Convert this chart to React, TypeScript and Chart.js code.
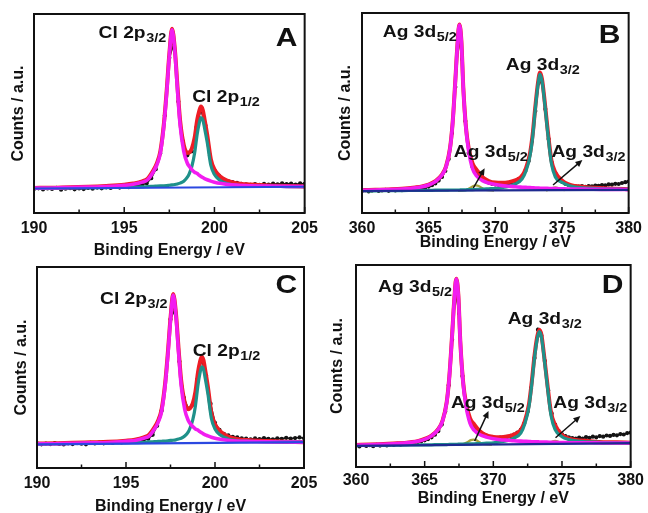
import React, { useEffect, useRef } from "react";
import { Chart, registerables } from "chart.js";

Chart.register(...registerables);

const FONT = "'Liberation Sans', Arial, Helvetica, sans-serif";

// ---------------- Cl 2p data (panels A, C) ----------------
const CL_E = [190, 191, 192, 193, 194, 195, 195.5, 196, 196.3, 196.6, 196.8, 197, 197.2, 197.35, 197.5, 197.65, 197.8, 197.95, 198.1, 198.3, 198.5, 198.6, 198.75, 198.9, 199.05, 199.15, 199.25, 199.35, 199.45, 199.6, 199.8, 200, 200.3, 200.7, 201.2, 202, 203, 204, 205];

const A_MAG = [12.5, 12.6, 12.8, 13.0, 13.3, 13.9, 14.4, 15.5, 16.7, 20.5, 24, 30, 44, 60, 79, 92, 82, 62, 44, 31, 25, 23.5, 21.8, 20.5, 19.8, 19, 18.4, 17.8, 17.3, 16.7, 16, 15.5, 14.9, 14.4, 14, 13.7, 13.5, 13.4, 13.3];
const A_TEAL = [12.4, 12.5, 12.6, 12.7, 12.8, 12.9, 13.0, 13.1, 13.3, 13.4, 13.5, 13.6, 13.7, 13.8, 13.95, 14.1, 14.3, 14.6, 15.0, 16.0, 18.0, 19.7, 23.5, 30, 40, 44.8, 48, 47, 42.8, 35.5, 24, 19.3, 16.5, 14.8, 14.0, 13.6, 13.4, 13.3, 13.2];
const A_ENV = [12.6, 12.7, 13.0, 13.2, 13.6, 14.2, 14.8, 15.9, 17.3, 21.2, 24.8, 30.9, 45.0, 61.1, 79.8, 92.6, 83, 63.8, 46.2, 34.2, 30.2, 30.4, 32.5, 37.7, 47.0, 51.0, 53.5, 51.9, 47.2, 39.3, 27.1, 21.9, 18.5, 16.3, 15.0, 14.3, 13.8, 13.6, 13.3];

const C_MAG = [12.0, 12.1, 12.3, 12.5, 12.7, 13.3, 13.7, 14.8, 15.9, 19.4, 22.6, 28.2, 41.1, 56, 73.5, 86, 76.3, 57.8, 41.1, 29.1, 23.6, 22.2, 20.6, 19.4, 18.8, 18.1, 17.5, 17.0, 16.5, 16.0, 15.3, 14.8, 14.3, 13.8, 13.4, 13.2, 13.0, 12.9, 12.8];
const C_TEAL = [12.0, 12.1, 12.2, 12.3, 12.4, 12.5, 12.6, 12.7, 13.0, 13.1, 13.2, 13.3, 13.4, 13.5, 13.7, 13.8, 14.0, 14.4, 14.8, 15.9, 18.0, 19.9, 23.9, 30.9, 41.7, 46.9, 50.3, 49.2, 44.7, 36.9, 24.5, 19.4, 16.4, 14.6, 13.7, 13.3, 13.1, 13.0, 12.9];
const C_ENV = [12.2, 12.3, 12.6, 12.8, 13.0, 13.6, 14.1, 15.3, 16.6, 20.2, 23.5, 29.2, 42.2, 57.2, 74.5, 86.6, 77.5, 59.8, 43.5, 32.6, 29.2, 29.7, 32.1, 37.9, 48.0, 52.5, 55.3, 53.7, 48.7, 40.4, 27.3, 21.7, 18.2, 15.8, 14.5, 13.8, 13.4, 13.1, 12.8];

const CL_BASE_E = [190, 205];
const A_BASE = [12.3, 13.2];
const C_BASE = [11.8, 12.9];

const CL_RAW_E = [190, 190.25, 190.5, 190.75, 191, 191.25, 191.5, 191.75, 192, 192.25, 192.5, 192.75, 193, 193.25, 193.5, 193.75, 194, 194.25, 194.5, 194.75, 195, 195.25, 195.5, 195.75, 196, 196.25, 196.5, 196.75, 197, 197.25, 197.5, 197.75, 198, 198.25, 198.5, 198.75, 199, 199.25, 199.5, 199.75, 200, 200.25, 200.5, 200.75, 201, 201.25, 201.5, 201.75, 202, 202.25, 202.5, 202.75, 203, 203.25, 203.5, 203.75, 204, 204.25, 204.5, 204.75, 205];
const A_RAW = [12.0, 12.4, 11.8, 12.3, 12.1, 12.6, 11.7, 12.2, 12.5, 11.9, 12.3, 12.0, 12.6, 12.2, 12.8, 12.4, 12.9, 12.6, 13.1, 12.8, 13.3, 13.0, 13.6, 13.8, 14.2, 15.0, 17.5, 22, 30, 49, 78, 85, 56, 36, 29, 31, 43, 52, 44, 29, 21.5, 18.8, 16.8, 16, 15.5, 15.1, 14.6, 14.4, 14.2, 14.5, 14.1, 14.6, 14.3, 14.8, 14.4, 14.9, 14.5, 14.8, 14.3, 14.9, 14.6];
const C_RAW = [12.3, 11.8, 12.2, 11.9, 12.4, 12.0, 11.7, 12.3, 11.9, 12.4, 12.1, 11.8, 12.5, 12.2, 12.6, 12.3, 12.8, 12.5, 12.9, 12.7, 13.1, 13.2, 13.5, 13.6, 14.0, 14.6, 16.5, 21, 28.5, 46, 74, 79, 53, 35, 29.5, 31.5, 44, 54, 46, 32, 22.5, 19, 17, 16.2, 15.5, 15.2, 14.8, 14.6, 14.3, 14.7, 14.4, 14.9, 14.5, 14.2, 14.8, 14.5, 15.0, 14.6, 14.9, 15.2, 14.8];

// ---------------- Ag 3d data (panels B, D) ----------------
const AG_E = [360, 361, 362, 363, 364, 364.5, 365, 365.5, 366, 366.3, 366.6, 366.8, 367, 367.15, 367.3, 367.45, 367.6, 367.8, 368, 368.3, 368.6, 369, 369.5, 370, 370.5, 371, 371.5, 372, 372.3, 372.6, 372.8, 373, 373.2, 373.35, 373.5, 373.7, 373.9, 374.2, 374.5, 375, 375.5, 376, 377, 378, 379, 380];

const B_MAG = [11.3, 11.5, 11.7, 12.0, 12.6, 13.1, 14.0, 15.7, 19, 23, 32, 45, 66, 83, 94, 86, 62, 42, 31, 22, 18.5, 16.3, 15, 14.2, 13.7, 13.4, 13.1, 12.9, 12.8, 12.7, 12.6, 12.5, 12.5, 12.4, 12.4, 12.3, 12.3, 12.2, 12.2, 12.1, 12.0, 12.0, 11.9, 11.8, 11.8, 11.7];
const B_TEAL = [11.1, 11.1, 11.2, 11.2, 11.3, 11.3, 11.3, 11.4, 11.4, 11.4, 11.5, 11.5, 11.5, 11.5, 11.5, 11.6, 11.6, 11.6, 11.7, 11.7, 11.8, 11.9, 12.1, 12.3, 12.7, 13.3, 14.5, 17, 21, 28.5, 38, 52, 64, 69.3, 66, 55, 42, 25, 18, 15.3, 13.8, 13.0, 12.4, 12.1, 11.9, 11.8];
const B_ENV = [11.4, 11.6, 11.8, 12.1, 12.8, 13.3, 14.2, 15.9, 19.2, 23.2, 32.3, 45.3, 66.3, 83.3, 94.2, 86.4, 62.4, 42.7, 32.5, 24.6, 21.6, 18.2, 16.0, 15.2, 15.1, 15.4, 16.3, 18.5, 22.4, 29.8, 39.2, 53.1, 65.1, 70.3, 67, 55.9, 43.1, 26.6, 20.3, 16.3, 14.3, 13.5, 12.8, 12.4, 12.1, 11.9];

const D_MAG = [10.8, 11.0, 11.3, 11.6, 12.2, 12.7, 13.7, 15.4, 18.7, 22.7, 31.7, 44.7, 65.2, 82.0, 93.0, 85.0, 61.3, 41.5, 30.6, 21.7, 18.2, 16.1, 14.8, 14.0, 13.5, 13.3, 13.0, 12.8, 12.7, 12.6, 12.5, 12.5, 12.5, 12.4, 12.4, 12.3, 12.3, 12.2, 12.2, 12.1, 12.0, 12.0, 12.0, 11.9, 11.9, 11.9];
const D_TEAL = [10.6, 10.7, 10.7, 10.8, 10.9, 10.9, 11.0, 11.0, 11.1, 11.1, 11.1, 11.2, 11.2, 11.2, 11.2, 11.3, 11.3, 11.3, 11.4, 11.4, 11.5, 11.6, 11.8, 12.0, 12.4, 13.0, 14.3, 16.8, 21.5, 30, 41, 54, 63.5, 67, 64.5, 54, 42, 25.5, 18.5, 15.0, 13.6, 12.9, 12.4, 12.1, 12.0, 11.9];
const D_ENV = [10.9, 11.1, 11.4, 11.7, 12.3, 12.8, 13.9, 15.5, 18.9, 22.9, 31.9, 45.0, 65.4, 82.2, 93.2, 85.3, 61.6, 42.1, 32.0, 24.2, 21.2, 17.9, 15.7, 14.9, 14.7, 15.1, 16.1, 18.3, 22.9, 31.3, 42.2, 55.2, 64.6, 68.0, 65.5, 54.9, 43.1, 27.1, 20.8, 15.9, 14.1, 13.4, 12.8, 12.3, 12.2, 12.0];

const OL1_E = [367.2, 367.8, 368.1, 368.35, 368.55, 368.75, 369.0, 369.3, 369.9];
const OL2_E = [373.8, 374.1, 374.35, 374.5, 374.65, 374.9, 375.2];
const B_OL1 = [11.1, 11.5, 12.5, 13.5, 13.8, 13.5, 12.5, 11.5, 11.2];
const B_OL2 = [11.3, 11.8, 12.6, 12.8, 12.6, 11.8, 11.4];
const D_OL1 = [11.0, 11.3, 12.3, 13.3, 13.6, 13.3, 12.3, 11.3, 11.1];
const D_OL2 = [11.4, 11.9, 12.7, 12.9, 12.7, 11.9, 11.5];

const AG_BASE_E = [360, 380];
const B_BASE = [11.0, 11.6];
const D_BASE = [10.5, 11.8];

const AG_RAW_E = [360, 360.25, 360.5, 360.75, 361, 361.25, 361.5, 361.75, 362, 362.25, 362.5, 362.75, 363, 363.25, 363.5, 363.75, 364, 364.25, 364.5, 364.75, 365, 365.25, 365.5, 365.75, 366, 366.25, 366.5, 366.75, 367, 367.25, 367.5, 367.75, 368, 368.25, 368.5, 368.75, 369, 369.25, 369.5, 369.75, 370, 370.25, 370.5, 370.75, 371, 371.25, 371.5, 371.75, 372, 372.25, 372.5, 372.75, 373, 373.25, 373.5, 373.75, 374, 374.25, 374.5, 374.75, 375, 375.25, 375.5, 375.75, 376, 376.25, 376.5, 376.75, 377, 377.25, 377.5, 377.75, 378, 378.25, 378.5, 378.75, 379, 379.25, 379.5, 379.75, 380];
const B_RAW = [11.0, 11.4, 10.8, 11.2, 11.5, 11.0, 11.3, 11.6, 11.1, 11.5, 11.3, 11.7, 11.4, 11.8, 11.6, 12.0, 12.1, 12.2, 12.5, 12.8, 13.2, 13.9, 14.8, 16.2, 18, 21, 27, 40, 63, 88, 77, 46, 30, 23.5, 20.5, 18.5, 17, 15.9, 15.2, 14.6, 14.3, 14.1, 14.2, 14.3, 14.6, 15.0, 15.8, 16.9, 18.3, 21, 26, 36, 51, 65, 66, 52, 37, 25, 20, 17, 15.6, 14.6, 14.0, 13.5, 13.3, 13.2, 13.4, 13.1, 13.5, 13.3, 13.7, 13.6, 14.0, 13.8, 14.3, 14.2, 14.6, 14.5, 15.0, 15.4, 15.7];
const D_RAW = [10.6, 10.2, 10.9, 10.4, 10.8, 10.3, 11.0, 10.6, 11.1, 10.7, 11.2, 10.9, 11.4, 11.1, 11.6, 11.5, 11.9, 12.0, 12.4, 12.7, 13.2, 13.8, 14.7, 16.0, 17.8, 21, 27.5, 40.5, 63, 87, 76, 45, 30.5, 24, 21, 19, 17.5, 16.3, 15.5, 14.9, 14.6, 14.3, 14.5, 14.6, 14.9, 15.4, 16.0, 17.0, 18.4, 21.5, 27.5, 39, 54, 68, 65, 52.5, 38, 26.5, 21, 17.8, 16.2, 15.3, 14.7, 14.3, 14.0, 14.5, 14.1, 14.8, 14.4, 15.0, 14.7, 15.3, 15.0, 15.6, 15.4, 15.9, 15.7, 16.3, 16.1, 16.8, 17.0];

// ---------------- annotations (data coordinates) ----------------
type Lbl = { text: string; sub?: string; x: number; y: number; big?: boolean };
type Arw = { x1: number; y1: number; x2: number; y2: number };

const A_LABELS: Lbl[] = [
  { text: "Cl 2p", sub: "3/2", x: 193.58, y: 87.9 },
  { text: "Cl 2p", sub: "1/2", x: 198.77, y: 55.8 },
  { text: "A", x: 203.4, y: 83.9, big: true },
];
const C_LABELS: Lbl[] = [
  { text: "Cl 2p", sub: "3/2", x: 193.54, y: 81.4 },
  { text: "Cl 2p", sub: "1/2", x: 198.75, y: 55.7 },
  { text: "C", x: 203.4, y: 86.9, big: true },
];
const B_LABELS: Lbl[] = [
  { text: "Ag 3d", sub: "5/2", x: 361.56, y: 88 },
  { text: "Ag 3d", sub: "3/2", x: 370.79, y: 71.5 },
  { text: "Ag 3d", sub: "5/2", x: 366.89, y: 28.2 },
  { text: "Ag 3d", sub: "3/2", x: 374.21, y: 28.2 },
  { text: "B", x: 377.75, y: 85, big: true },
];
const D_LABELS: Lbl[] = [
  { text: "Ag 3d", sub: "5/2", x: 361.61, y: 86.6 },
  { text: "Ag 3d", sub: "3/2", x: 371.05, y: 70.6 },
  { text: "Ag 3d", sub: "5/2", x: 366.91, y: 29.4 },
  { text: "Ag 3d", sub: "3/2", x: 374.37, y: 29.4 },
  { text: "D", x: 377.9, y: 86.3, big: true },
];
const B_ARROWS: Arw[] = [
  { x1: 368.35, y1: 12.5, x2: 369.2, y2: 22.4 },
  { x1: 374.33, y1: 14, x2: 376.53, y2: 26.5 },
];
const D_ARROWS: Arw[] = [
  { x1: 368.64, y1: 12.9, x2: 369.65, y2: 27.7 },
  { x1: 374.53, y1: 14.5, x2: 376.34, y2: 25.2 },
];

// ---------------- styling ----------------
const COL = {
  raw: "#141414",
  env: "#ee1c25",
  mag: "#f21cf0",
  teal: "#1f918a",
  blueCl: "#2b48e0",
  blueAg: "#1e2a90",
  olive: "#a5a23a",
  text: "#111111",
};

const pts = (xs: number[], ys: number[]) => xs.map((x, i) => ({ x, y: ys[i] }));

type PanelDef = {
  key: string;
  box: { left: number; top: number; width: number; height: number };
  area: { left: number; top: number; right: number; bottom: number };
  xMin: number;
  xMax: number;
  tickPad: number;
  xTitlePad: number;
  yTitlePad: number;
  datasets: any[];
  labels: Lbl[];
  arrows: Arw[];
};

function line(label: string, data: any[], color: string, width: number, order: number, extra: any = {}) {
  return {
    label,
    data,
    borderColor: color,
    backgroundColor: color,
    borderWidth: width,
    pointRadius: 0,
    fill: false,
    cubicInterpolationMode: "monotone",
    order,
    ...extra,
  };
}

function clSets(mag: number[], teal: number[], env: number[], base: number[], raw: number[]) {
  return [
    line("baseline", pts(CL_BASE_E, base), COL.blueCl, 2.2, 1),
    line("Cl 2p3/2", pts(CL_E, mag), COL.mag, 3.6, 2),
    line("Cl 2p1/2", pts(CL_E, teal), COL.teal, 3.2, 3),
    line("envelope", pts(CL_E, env), COL.env, 4, 4),
    line("raw", pts(CL_RAW_E, raw), COL.raw, 1.6, 6, { pointRadius: 1.3, tension: 0, cubicInterpolationMode: "default" }),
  ];
}

function agSets(mag: number[], teal: number[], env: number[], base: number[], ol1: number[], ol2: number[], raw: number[]) {
  return [
    line("baseline", pts(AG_BASE_E, base), COL.blueAg, 2.2, 1),
    line("Ag 3d5/2", pts(AG_E, mag), COL.mag, 3.6, 2),
    line("Ag 3d3/2", pts(AG_E, teal), COL.teal, 3.2, 3),
    line("Ag 3d5/2 minor", pts(OL1_E, ol1), COL.olive, 2.2, 4),
    line("Ag 3d3/2 minor", pts(OL2_E, ol2), COL.olive, 2.2, 4),
    line("envelope", pts(AG_E, env), COL.env, 4, 5),
    line("raw", pts(AG_RAW_E, raw), COL.raw, 1.6, 6, { pointRadius: 1.3, tension: 0, cubicInterpolationMode: "default" }),
  ];
}

const PANELS: PanelDef[] = [
  {
    key: "A",
    box: { left: 0, top: 0, width: 324, height: 258 },
    area: { left: 34, top: 14, right: 306, bottom: 213 },
    xMin: 190, xMax: 205, tickPad: 6, xTitlePad: -2, yTitlePad: 9,
    datasets: clSets(A_MAG, A_TEAL, A_ENV, A_BASE, A_RAW),
    labels: A_LABELS, arrows: [],
  },
  {
    key: "B",
    box: { left: 324, top: 0, width: 324, height: 258 },
    area: { left: 38, top: 13, right: 310.5, bottom: 213 },
    xMin: 360, xMax: 380, tickPad: 6, xTitlePad: 5.4, yTitlePad: 12.4,
    datasets: agSets(B_MAG, B_TEAL, B_ENV, B_BASE, B_OL1, B_OL2, B_RAW),
    labels: B_LABELS, arrows: B_ARROWS,
  },
  {
    key: "C",
    box: { left: 0, top: 256, width: 324, height: 257 },
    area: { left: 37, top: 11, right: 304, bottom: 212 },
    xMin: 190, xMax: 205, tickPad: 6, xTitlePad: -3.6, yTitlePad: 12,
    datasets: clSets(C_MAG, C_TEAL, C_ENV, C_BASE, C_RAW),
    labels: C_LABELS, arrows: [],
  },
  {
    key: "D",
    box: { left: 324, top: 256, width: 324, height: 257 },
    area: { left: 32, top: 9, right: 309, bottom: 211 },
    xMin: 360, xMax: 380, tickPad: 4, xTitlePad: 4.4, yTitlePad: 4.4,
    datasets: agSets(D_MAG, D_TEAL, D_ENV, D_BASE, D_OL1, D_OL2, D_RAW),
    labels: D_LABELS, arrows: D_ARROWS,
  },
];

function overlay(p: PanelDef) {
  return {
    id: "overlay" + p.key,
    afterDraw(chart: any) {
      const { ctx, chartArea: a } = chart;
      const xs = chart.scales.x;
      const ys = chart.scales.y;
      ctx.save();
      // frame
      ctx.strokeStyle = COL.text;
      ctx.lineWidth = 2;
      ctx.strokeRect(a.left, a.top, a.right - a.left, a.bottom - a.top);
      // inward tick marks (major from the scale, minor halfway)
      const tv: number[] = xs.ticks.map((t: any) => t.value);
      ctx.lineWidth = 1.5;
      tv.forEach((v, i) => {
        const px = xs.getPixelForValue(v);
        ctx.beginPath();
        ctx.moveTo(px, a.bottom);
        ctx.lineTo(px, a.bottom - 6);
        ctx.stroke();
        if (i < tv.length - 1) {
          const mx = xs.getPixelForValue((v + tv[i + 1]) / 2);
          ctx.beginPath();
          ctx.moveTo(mx, a.bottom);
          ctx.lineTo(mx, a.bottom - 3.5);
          ctx.stroke();
        }
      });
      // arrows
      ctx.fillStyle = COL.text;
      ctx.lineWidth = 1.5;
      for (const ar of p.arrows) {
        const x1 = xs.getPixelForValue(ar.x1), y1 = ys.getPixelForValue(ar.y1);
        const x2 = xs.getPixelForValue(ar.x2), y2 = ys.getPixelForValue(ar.y2);
        const ang = Math.atan2(y2 - y1, x2 - x1);
        const hl = 7, hw = 3.2;
        ctx.beginPath();
        ctx.moveTo(x1, y1);
        ctx.lineTo(x2 - Math.cos(ang) * hl * 0.8, y2 - Math.sin(ang) * hl * 0.8);
        ctx.stroke();
        ctx.beginPath();
        ctx.moveTo(x2, y2);
        ctx.lineTo(x2 - Math.cos(ang) * hl - Math.sin(ang) * hw, y2 - Math.sin(ang) * hl + Math.cos(ang) * hw);
        ctx.lineTo(x2 - Math.cos(ang) * hl + Math.sin(ang) * hw, y2 - Math.sin(ang) * hl - Math.cos(ang) * hw);
        ctx.closePath();
        ctx.fill();
      }
      // labels
      ctx.textBaseline = "alphabetic";
      ctx.textAlign = "left";
      for (const l of p.labels) {
        const x = xs.getPixelForValue(l.x);
        const y = ys.getPixelForValue(l.y);
        ctx.save();
        ctx.translate(x, y);
        ctx.scale(1.2, 1);
        ctx.font = `bold ${l.big ? 25 : 16}px ${FONT}`;
        ctx.fillText(l.text, 0, 0);
        if (l.sub) {
          const w = ctx.measureText(l.text).width;
          ctx.font = `bold 12px ${FONT}`;
          ctx.fillText(l.sub, w + 0.5, 4);
        }
        ctx.restore();
      }
      ctx.restore();
    },
  };
}

function makeConfig(p: PanelDef): any {
  const titleFont = { size: 16, weight: "bold" as const, family: FONT, lineHeight: 1.2 };
  return {
    type: "line",
    data: { datasets: p.datasets },
    options: {
      responsive: false,
      animation: false,
      events: [],
      layout: { padding: { left: 0, top: p.area.top, right: p.box.width - p.area.right, bottom: 0 } },
      plugins: { legend: { display: false }, tooltip: { enabled: false } },
      scales: {
        x: {
          type: "linear",
          position: "bottom",
          min: p.xMin,
          max: p.xMax,
          ticks: {
            stepSize: 5,
            padding: p.tickPad,
            color: COL.text,
            maxRotation: 0,
            autoSkip: false,
            font: { size: 16, weight: "bold", family: FONT },
          },
          grid: { display: false, drawTicks: false, tickLength: 0 },
          border: { display: false },
          title: {
            display: true,
            text: "Binding Energy / eV",
            color: COL.text,
            font: titleFont,
            padding: { top: 0, bottom: p.xTitlePad },
          },
          afterFit: (s: any) => {
            s.height = p.box.height - p.area.bottom;
          },
        },
        y: {
          type: "linear",
          min: 0,
          max: 100,
          ticks: { display: false },
          grid: { display: false, drawTicks: false, tickLength: 0 },
          border: { display: false },
          title: {
            display: true,
            text: "Counts / a.u.",
            color: COL.text,
            font: titleFont,
            padding: { top: p.yTitlePad, bottom: 0 },
          },
          afterFit: (s: any) => {
            s.width = p.area.left;
          },
        },
      },
    },
    plugins: [overlay(p)],
  };
}

function Panel({ p }: { p: PanelDef }) {
  const ref = useRef<HTMLCanvasElement | null>(null);
  useEffect(() => {
    if (!ref.current) return;
    const chart = new Chart(ref.current, makeConfig(p));
    return () => chart.destroy();
  }, [p]);
  return (
    <canvas
      ref={ref}
      width={p.box.width}
      height={p.box.height}
      style={{
        position: "absolute",
        left: p.box.left,
        top: p.box.top,
        width: p.box.width,
        height: p.box.height,
      }}
    />
  );
}

export default function App() {
  return (
    <div
      style={{
        position: "fixed",
        left: 0,
        top: 0,
        width: 648,
        height: 513,
        overflow: "hidden",
        background: "#ffffff",
        fontFamily: FONT,
      }}
    >
      {PANELS.map((p) => (
        <Panel key={p.key} p={p} />
      ))}
    </div>
  );
}
